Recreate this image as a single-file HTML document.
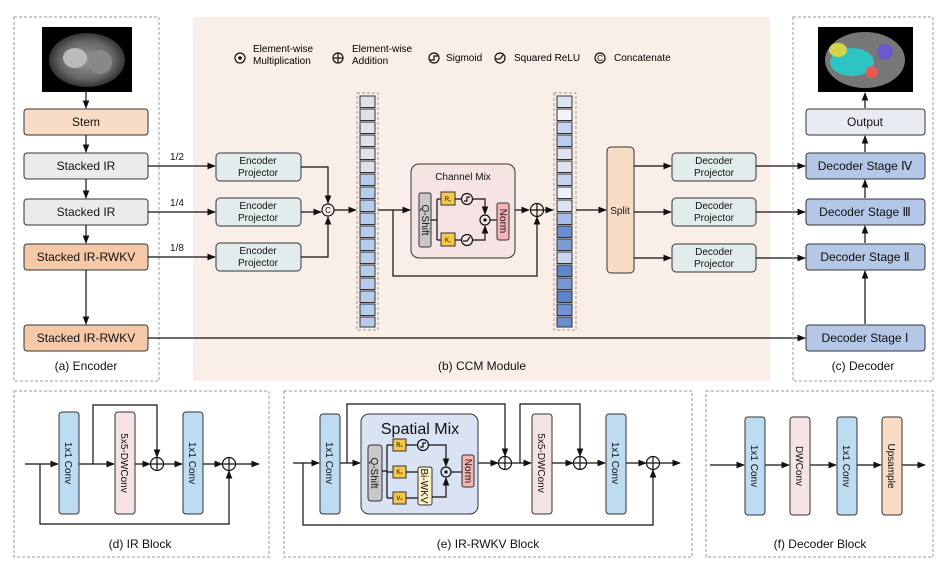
<!DOCTYPE html>
<html><head><meta charset="utf-8"><style>
html,body{margin:0;padding:0;background:#fff}
svg{display:block;font-family:"Liberation Sans",sans-serif}
</style></head><body>
<svg width="947" height="574" viewBox="0 0 947 574" xmlns="http://www.w3.org/2000/svg">
<defs>
<marker id="a" viewBox="0 0 10 10" refX="9" refY="5" markerWidth="7" markerHeight="7" orient="auto"><path d="M0,1 L10,5 L0,9 z" fill="#111"/></marker>
<radialGradient id="ct" cx="0.5" cy="0.5" r="0.5"><stop offset="0" stop-color="#999"/><stop offset="0.7" stop-color="#666"/><stop offset="1" stop-color="#333"/></radialGradient>
</defs>
<style>
.l{stroke:#111;stroke-width:1.2;fill:none}
.b{stroke:#333;stroke-width:1}
.t{font-size:12px;fill:#111;text-anchor:middle}
.s{font-size:10px;fill:#111;text-anchor:middle}
.d{fill:none;stroke:#999;stroke-width:1;stroke-dasharray:3,2}
</style>

<rect x="193" y="17" width="577" height="364" fill="#f9eee8"/>
<rect x="14" y="17" width="145" height="364" class="d"/>
<rect x="42" y="27" width="90" height="65" fill="#000"/>
<ellipse cx="87" cy="60" rx="38" ry="27" fill="url(#ct)"/>
<ellipse cx="75" cy="58" rx="12" ry="10" fill="#bbb"/>
<ellipse cx="100" cy="62" rx="12" ry="12" fill="#888"/>
<rect x="24" y="109" width="124" height="26" rx="3" fill="#f8dcc6" class="b"/><text x="86" y="126" class="t">Stem</text>
<rect x="24" y="153" width="124" height="26" rx="3" fill="#ebebeb" class="b"/><text x="86" y="170" class="t">Stacked IR</text>
<rect x="24" y="199" width="124" height="26" rx="3" fill="#ebebeb" class="b"/><text x="86" y="216" class="t">Stacked IR</text>
<rect x="24" y="244" width="124" height="26" rx="3" fill="#f5c9a8" class="b"/><text x="86" y="261" class="t">Stacked IR-RWKV</text>
<rect x="24" y="325" width="124" height="26" rx="3" fill="#f5c9a8" class="b"/><text x="86" y="342" class="t">Stacked  IR-RWKV</text>
<g class="l" marker-end="url(#a)">
<path d="M86 92V108"/><path d="M86 135V152"/><path d="M86 179V198"/><path d="M86 225V243"/><path d="M86 270V324"/>
</g>
<text x="86" y="370" class="t">(a) Encoder</text>

<!-- legend -->
<circle cx="240" cy="58" r="5" class="l"/><circle cx="240" cy="58" r="1.8" fill="#111"/>
<text x="253" y="52" font-size="10">Element-wise</text><text x="253" y="64" font-size="10">Multiplication</text>
<circle cx="338" cy="58" r="5" class="l"/><path d="M333 58H343M338 53V63" class="l"/>
<text x="352" y="52" font-size="10">Element-wise</text><text x="352" y="64" font-size="10">Addition</text>
<circle cx="434" cy="58" r="5" class="l"/><path d="M430 60H434V56H438" class="l"/><text x="446" y="61" font-size="10">Sigmoid</text>
<circle cx="500" cy="58" r="5" class="l"/><path d="M496 59H500L503 55" class="l"/><text x="514" y="61" font-size="10">Squared ReLU</text>
<circle cx="600" cy="58" r="5" class="l"/><text x="600" y="61" font-size="8" text-anchor="middle">C</text><text x="614" y="61" font-size="10">Concatenate</text>

<g class="l" marker-end="url(#a)">
<path d="M148 166H215"/><path d="M148 212H215"/><path d="M148 257H215"/>
</g>
<text x="177" y="160" class="s">1/2</text><text x="177" y="206" class="s">1/4</text><text x="177" y="251" class="s">1/8</text>
<g fill="#e3ecec" class="b">
<rect x="216" y="153" width="85" height="28" rx="4"/><rect x="216" y="198" width="85" height="28" rx="4"/><rect x="216" y="243" width="85" height="28" rx="4"/>
</g>
<g class="s"><text x="258" y="164">Encoder</text><text x="258" y="176">Projector</text>
<text x="258" y="209">Encoder</text><text x="258" y="221">Projector</text>
<text x="258" y="254">Encoder</text><text x="258" y="266">Projector</text></g>
<g class="l" marker-end="url(#a)">
<path d="M301 167H328V203"/><path d="M301 257H328V217"/><path d="M301 212H321"/>
</g>
<circle cx="328" cy="210" r="6" fill="#fff" class="l"/><text x="328" y="213" font-size="8" text-anchor="middle">C</text>
<path d="M334 210H356" class="l" marker-end="url(#a)"/>

<rect x="357" y="93" width="21" height="237" class="d" stroke="#666"/>
<g class="b">
<rect x="360" y="96" width="15" height="11.5" fill="#dfe1ec"/><rect x="360" y="109" width="15" height="11.5" fill="#dfe1ec"/><rect x="360" y="122" width="15" height="11.5" fill="#dfe1ec"/><rect x="360" y="135" width="15" height="11.5" fill="#dfe1ec"/><rect x="360" y="148" width="15" height="11.5" fill="#dfe1ec"/><rect x="360" y="161" width="15" height="11.5" fill="#dfe1ec"/>
<rect x="360" y="174" width="15" height="11.5" fill="#b7cbea"/><rect x="360" y="187" width="15" height="11.5" fill="#b7cbea"/><rect x="360" y="200" width="15" height="11.5" fill="#b7cbea"/><rect x="360" y="213" width="15" height="11.5" fill="#b7cbea"/><rect x="360" y="226" width="15" height="11.5" fill="#b7cbea"/><rect x="360" y="239" width="15" height="11.5" fill="#b7cbea"/><rect x="360" y="252" width="15" height="11.5" fill="#b7cbea"/><rect x="360" y="265" width="15" height="11.5" fill="#b7cbea"/><rect x="360" y="278" width="15" height="11.5" fill="#b7cbea"/><rect x="360" y="291" width="15" height="11.5" fill="#b7cbea"/><rect x="360" y="304" width="15" height="11.5" fill="#b7cbea"/><rect x="360" y="317" width="15" height="10" fill="#b7cbea"/>
</g>

<path d="M378 210H410" class="l" marker-end="url(#a)"/>
<path d="M393 210V276H537V217" class="l" marker-end="url(#a)"/>
<rect x="411" y="164" width="104" height="94" rx="8" fill="#f6e4e4" class="b"/>
<text x="463" y="180" class="s" font-size="11">Channel Mix</text>
<rect x="419" y="193" width="12" height="54" rx="2" fill="#c8c8c8" class="b"/>
<text transform="translate(422,220) rotate(90)" class="s">Q-Shift</text>
<path d="M431 220H437M437 199V240M437 199H441M437 240H441" class="l"/>
<rect x="441" y="192" width="14" height="13" fill="#f5c84a" class="b"/><text x="448" y="201" font-size="6" text-anchor="middle">R꜀</text>
<rect x="441" y="233" width="14" height="13" fill="#f5c84a" class="b"/><text x="448" y="242" font-size="6" text-anchor="middle">K꜀</text>
<path d="M455 199H461M455 240H461" class="l"/>
<circle cx="467" cy="199" r="5.5" fill="#fff" class="l"/><path d="M464 201H467V197H470" class="l"/>
<circle cx="467" cy="240" r="5.5" fill="#fff" class="l"/><path d="M463 241H467L470 237" class="l"/>
<g class="l" marker-end="url(#a)"><path d="M473 199H485V214"/><path d="M473 240H485V226"/></g>
<circle cx="485" cy="220" r="5" fill="#fff" class="l"/><circle cx="485" cy="220" r="1.6" fill="#111"/>
<path d="M490 220H497" class="l"/>
<rect x="497" y="203" width="12" height="37" rx="2" fill="#f4b5b5" class="b"/>
<text transform="translate(500,221) rotate(90)" class="s">Norm</text>
<path d="M515 210H529" class="l" marker-end="url(#a)"/>
<circle cx="537" cy="210" r="6.5" fill="#fff" class="l"/><path d="M530.5 210H543.5M537 203.5V216.5" class="l"/>
<path d="M543 210H553" class="l" marker-end="url(#a)"/>

<rect x="554" y="93" width="22" height="237" class="d" stroke="#666"/>
<g class="b">
<rect x="557" y="96" width="15" height="11.5" fill="#dde5f3"/><rect x="557" y="109" width="15" height="11.5" fill="#f0f3fa"/><rect x="557" y="122" width="15" height="11.5" fill="#c5d4ee"/><rect x="557" y="135" width="15" height="11.5" fill="#bccdec"/><rect x="557" y="148" width="15" height="11.5" fill="#dfe1ec"/><rect x="557" y="161" width="15" height="11.5" fill="#dfe1ec"/>
<rect x="557" y="174" width="15" height="11.5" fill="#c5d4ee"/><rect x="557" y="187" width="15" height="11.5" fill="#eef1f8"/><rect x="557" y="200" width="15" height="11.5" fill="#dbe2f1"/><rect x="557" y="213" width="15" height="11.5" fill="#a7bde5"/><rect x="557" y="226" width="15" height="11.5" fill="#6a8fcf"/><rect x="557" y="239" width="15" height="11.5" fill="#7b9bd4"/><rect x="557" y="252" width="15" height="11.5" fill="#c7d5ef"/><rect x="557" y="265" width="15" height="11.5" fill="#5f86cb"/><rect x="557" y="278" width="15" height="11.5" fill="#7799d3"/><rect x="557" y="291" width="15" height="11.5" fill="#5c83c9"/><rect x="557" y="304" width="15" height="11.5" fill="#6f92d0"/><rect x="557" y="317" width="15" height="10" fill="#6a8fcf"/>
</g>
<path d="M576 210H606" class="l" marker-end="url(#a)"/>
<rect x="607" y="147" width="27" height="126" rx="4" fill="#f8dcc6" class="b"/>
<text x="620" y="214" class="s">Split</text>
<g class="l" marker-end="url(#a)">
<path d="M634 166H671"/><path d="M634 212H671"/><path d="M634 258H671"/>
</g>
<g fill="#e3ecec" class="b">
<rect x="672" y="153" width="84" height="28" rx="4"/><rect x="672" y="198" width="84" height="28" rx="4"/><rect x="672" y="244" width="84" height="28" rx="4"/>
</g>
<g class="s"><text x="714" y="164">Decoder</text><text x="714" y="176">Projector</text>
<text x="714" y="209">Decoder</text><text x="714" y="221">Projector</text>
<text x="714" y="255">Decoder</text><text x="714" y="267">Projector</text></g>
<g class="l" marker-end="url(#a)">
<path d="M756 166H805"/><path d="M756 212H805"/><path d="M756 258H805"/><path d="M148 338H805"/>
</g>
<text x="482" y="370" class="t">(b) CCM Module</text>

<rect x="793" y="17" width="140" height="364" class="d"/>
<rect x="818" y="27" width="95" height="65" fill="#000"/>
<ellipse cx="865" cy="60" rx="40" ry="28" fill="#777"/>
<ellipse cx="852" cy="62" rx="22" ry="14" fill="#2ec4c4"/>
<circle cx="885" cy="52" r="8" fill="#6a5acd"/><circle cx="872" cy="72" r="6" fill="#e55"/><ellipse cx="838" cy="50" rx="9" ry="7" fill="#d4d44a"/>
<rect x="806" y="109" width="119" height="26" rx="3" fill="#e8ecf2" class="b"/><text x="865" y="126" class="t">Output</text>
<g fill="#b4c7e7" class="b">
<rect x="806" y="153" width="119" height="26" rx="3"/><rect x="806" y="199" width="119" height="26" rx="3"/><rect x="806" y="244" width="119" height="26" rx="3"/><rect x="806" y="325" width="119" height="26" rx="3"/>
</g>
<text x="865" y="170" class="t">Decoder Stage Ⅳ</text><text x="865" y="216" class="t">Decoder Stage Ⅲ</text><text x="865" y="261" class="t">Decoder Stage Ⅱ</text><text x="865" y="342" class="t">Decoder Stage  Ⅰ</text>
<g class="l" marker-end="url(#a)">
<path d="M865 324V271"/><path d="M865 243V226"/><path d="M865 198V180"/><path d="M865 152V136"/><path d="M865 108V93"/>
</g>
<text x="863" y="370" class="t">(c) Decoder</text>

<!-- (d) -->
<rect x="14" y="391" width="255" height="166" class="d"/>
<g class="l" marker-end="url(#a)">
<path d="M25 464H58"/><path d="M78 464H114"/><path d="M134 464H150"/><path d="M164 464H182"/><path d="M202 464H222"/><path d="M236 464H259"/>
<path d="M93 464V405H157V457"/><path d="M40 464V524H229V471"/>
</g>
<rect x="59" y="412" width="20" height="102" rx="3" fill="#bddcf2" class="b"/><text transform="translate(65,463) rotate(90)" class="s">1x1 Conv</text>
<rect x="115" y="412" width="20" height="102" rx="3" fill="#f6e4e4" class="b"/><text transform="translate(121,463) rotate(90)" class="s">5x5-DWConv</text>
<rect x="183" y="412" width="20" height="102" rx="3" fill="#bddcf2" class="b"/><text transform="translate(189,463) rotate(90)" class="s">1x1 Conv</text>
<circle cx="157" cy="464" r="6.5" fill="#fff" class="l"/><path d="M150.5 464H163.5M157 457.5V470.5" class="l"/>
<circle cx="229" cy="464" r="6.5" fill="#fff" class="l"/><path d="M222.5 464H235.5M229 457.5V470.5" class="l"/>
<text x="140" y="548" class="t">(d) IR Block</text>

<!-- (e) -->
<rect x="284" y="391" width="408" height="166" class="d"/>
<g class="l" marker-end="url(#a)">
<path d="M293 463H319"/><path d="M339 463H360"/><path d="M478 463H498"/><path d="M512 463H531"/><path d="M551 463H573"/><path d="M587 463H605"/><path d="M625 463H646"/><path d="M660 463H680"/>
<path d="M347 463V404H505V456"/><path d="M520 463V404H580V456"/><path d="M303 463V525H653V470"/>
</g>
<rect x="320" y="414" width="20" height="100" rx="3" fill="#bddcf2" class="b"/><text transform="translate(326,463) rotate(90)" class="s">1x1 Conv</text>
<rect x="361" y="414" width="117" height="100" rx="8" fill="#dae3f3" class="b"/>
<text x="420" y="434" font-size="16" text-anchor="middle" fill="#111">Spatial Mix</text>
<rect x="368" y="445" width="14" height="56" rx="3" fill="#c8c8c8" class="b"/><text transform="translate(371,473) rotate(90)" class="s">Q-Shift</text>
<path d="M382 471H387M387 445V498M387 445H393M387 472H393M387 498H393" class="l"/>
<rect x="393" y="439" width="13" height="12" fill="#f5c84a" class="b"/><text x="399.5" y="447" font-size="6" text-anchor="middle">Rₛ</text>
<rect x="393" y="466" width="13" height="12" fill="#f5c84a" class="b"/><text x="399.5" y="474" font-size="6" text-anchor="middle">Kₛ</text>
<rect x="393" y="492" width="13" height="12" fill="#f5c84a" class="b"/><text x="399.5" y="500" font-size="6" text-anchor="middle">Vₛ</text>
<path d="M406 445H417M406 472H418M406 498H418" class="l"/>
<circle cx="423" cy="445" r="5.5" fill="#fff" class="l"/><path d="M420 447H423V443H426" class="l"/>
<rect x="418" y="467" width="14" height="38" rx="2" fill="#fdf1c8" class="b"/><text transform="translate(421,486) rotate(90)" class="s">Bi-WKV</text>
<g class="l" marker-end="url(#a)"><path d="M429 445H446V466"/><path d="M432 497H446V478"/></g>
<circle cx="446" cy="472" r="5" fill="#fff" class="l"/><circle cx="446" cy="472" r="1.6" fill="#111"/>
<path d="M451 472H462" class="l"/>
<rect x="462" y="455" width="12" height="32" rx="2" fill="#f4b5b5" class="b"/><text transform="translate(465,471) rotate(90)" class="s">Norm</text>
<circle cx="505" cy="463" r="6.5" fill="#fff" class="l"/><path d="M498.5 463H511.5M505 456.5V469.5" class="l"/>
<rect x="532" y="414" width="20" height="100" rx="3" fill="#f6e4e4" class="b"/><text transform="translate(538,463) rotate(90)" class="s">5x5-DWConv</text>
<circle cx="580" cy="463" r="6.5" fill="#fff" class="l"/><path d="M573.5 463H586.5M580 456.5V469.5" class="l"/>
<rect x="606" y="414" width="20" height="100" rx="3" fill="#bddcf2" class="b"/><text transform="translate(612,463) rotate(90)" class="s">1x1 Conv</text>
<circle cx="653" cy="463" r="6.5" fill="#fff" class="l"/><path d="M646.5 463H659.5M653 456.5V469.5" class="l"/>
<text x="488" y="548" class="t">(e) IR-RWKV Block</text>

<!-- (f) -->
<rect x="706" y="391" width="227" height="166" class="d"/>
<g class="l" marker-end="url(#a)">
<path d="M710 465H744"/><path d="M765 465H789"/><path d="M810 465H836"/><path d="M857 465H881"/><path d="M902 465H925"/>
</g>
<rect x="745" y="417" width="20" height="98" rx="3" fill="#bddcf2" class="b"/><text transform="translate(751,466) rotate(90)" class="s">1x1 Conv</text>
<rect x="790" y="417" width="20" height="98" rx="3" fill="#f6e4e4" class="b"/><text transform="translate(796,466) rotate(90)" class="s">DWConv</text>
<rect x="837" y="417" width="20" height="98" rx="3" fill="#bddcf2" class="b"/><text transform="translate(843,466) rotate(90)" class="s">1x1 Conv</text>
<rect x="882" y="417" width="20" height="98" rx="3" fill="#f8dcc6" class="b"/><text transform="translate(888,466) rotate(90)" class="s">Upsample</text>
<text x="820" y="548" class="t">(f) Decoder Block</text>
</svg>
</body></html>
